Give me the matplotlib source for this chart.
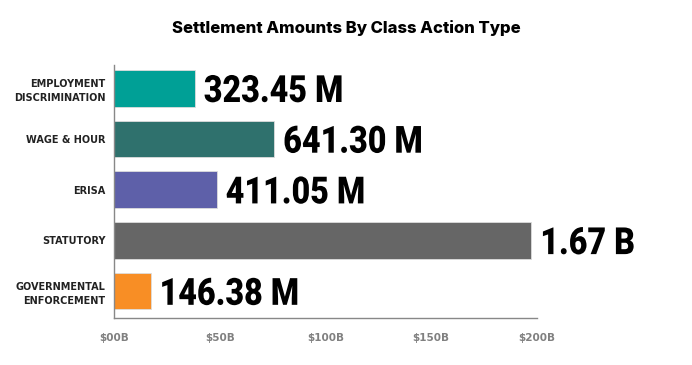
import matplotlib.pyplot as plt
import numpy as np
from matplotlib.textpath import TextPath
from matplotlib.patches import PathPatch
from matplotlib.font_manager import FontProperties
from matplotlib.transforms import Affine2D, ScaledTranslation

categories = ["EMPLOYMENT\nDISCRIMINATION", "WAGE & HOUR", "ERISA", "STATUTORY",
              "GOVERNMENTAL\nENFORCEMENT"]
amounts_m = [323.45, 641.30, 411.05, 1670.0, 146.38]
value_labels = ["323.45 M", "641.30 M", "411.05 M", "1.67 B", "146.38 M"]
tick_labels = ["$00B", "$50B", "$100B", "$150B", "$200B"]
colors = ["#00A096", "#2F716D", "#5E60A9", "#666666", "#F88E25"]

fig = plt.figure(figsize=(6.92, 3.65), dpi=100)
ax = fig.add_axes([0.1647, 0.1288, 0.611, 0.6932])

y = np.arange(len(categories))
ax.barh(y, amounts_m, height=0.72, color=colors, edgecolor="#dddddd", linewidth=0.6)

ax.set_ylim(4.53, -0.46)
ax.set_xlim(0, 1692)

# value labels: condensed look by squeezing the glyph outlines horizontally
fp = FontProperties(family="Roboto", weight="heavy")
size_pt = 27
px = fig.dpi / 72.0
for yi, v, lab in zip(y, amounts_m, value_labels):
    tp = TextPath((0, 0), lab, size=size_pt, prop=fp)
    cap = TextPath((0, 0), "3", size=size_pt, prop=fp).get_extents().height
    tr = (Affine2D().translate(0, -cap / 2).scale(0.86 * px, px)
          .translate(9, 0)
          + ScaledTranslation(v, yi, ax.transData))
    ax.add_patch(PathPatch(tp, transform=tr, facecolor="black", edgecolor="none",
                           clip_on=False))

ax.set_yticks(y)
ax.set_yticklabels(categories, fontsize=7, fontweight="bold", color="#222222",
                   linespacing=1.5)
ax.set_xticks(np.linspace(0, 1692, 5))
ax.set_xticklabels(tick_labels, fontsize=7.5, fontweight="bold", color="#808080")
ax.tick_params(axis="both", length=0)
ax.tick_params(axis="x", pad=11)
ax.tick_params(axis="y", pad=6)

for s in ["top", "right"]:
    ax.spines[s].set_visible(False)
for s in ["left", "bottom"]:
    ax.spines[s].set_color("#888888")
    ax.spines[s].set_linewidth(1.0)

fig.text(0.5, 0.923, "Settlement Amounts By Class Action Type", ha="center", va="center",
         fontsize=12, fontweight="heavy", family="Inter", color="black")

fig.savefig("out.png", dpi=100)
